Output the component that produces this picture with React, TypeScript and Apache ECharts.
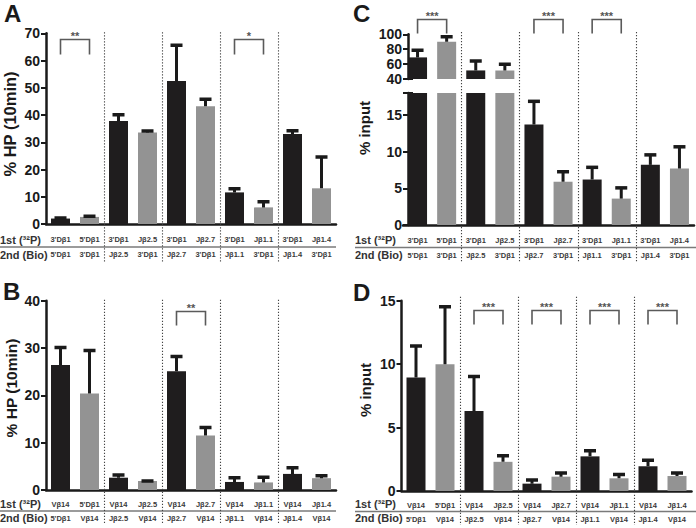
import React, { useEffect, useRef } from 'react';
import * as echarts from 'echarts';

const FONT = '"Liberation Sans", Arial, Helvetica, sans-serif';
const BLACK = '#1f1d1e';
const GRAY = '#939393';
const INK = '#1a1a1a';

// ---- category labels (two rows under each panel) ----
const firstAC = ["3'Dβ1", "5'Dβ1", "3'Dβ1", 'Jβ2.5', "3'Dβ1", 'Jβ2.7', "3'Dβ1", 'Jβ1.1', "3'Dβ1", 'Jβ1.4'];
const secondAC = ["5'Dβ1", "3'Dβ1", 'Jβ2.5', "3'Dβ1", 'Jβ2.7', "3'Dβ1", 'Jβ1.1', "3'Dβ1", 'Jβ1.4', "3'Dβ1"];
const firstBD = ['Vβ14', "5'Dβ1", 'Vβ14', 'Jβ2.5', 'Vβ14', 'Jβ2.7', 'Vβ14', 'Jβ1.1', 'Vβ14', 'Jβ1.4'];
const secondBD = ["5'Dβ1", 'Vβ14', 'Jβ2.5', 'Vβ14', 'Jβ2.7', 'Vβ14', 'Jβ1.1', 'Vβ14', 'Jβ1.4', 'Vβ14'];
const rowLabels = ['1st (³²P)', '2nd (Bio)'];
const panelLetters = ['A', 'B', 'C', 'D'];
const yTitles = ['% HP (10min)', '% HP (10min)', '% input', '% input'];

// ---- values: mean and top of error bar ----
const aMean = [2.0, 2.6, 37.8, 33.6, 52.5, 43.2, 11.6, 6.1, 33.0, 13.1];
const aErr = [2.6, 3.2, 40.5, 34.5, 66.0, 46.2, 13.3, 8.5, 34.6, 25.0];
const bMean = [26.4, 20.4, 2.6, 1.9, 25.1, 11.5, 1.7, 1.6, 3.4, 2.5];
const bErr = [30.3, 29.7, 3.4, 2.1, 28.4, 13.4, 2.8, 2.9, 4.9, 3.2];
const cMean = [69, 90, 51.5, 51.5, 13.7, 5.9, 6.2, 3.6, 8.2, 7.7];
const cErr = [80, 98, 65.5, 61, 17.0, 7.4, 8.0, 5.2, 9.7, 10.8];
const dMean = [8.95, 10.0, 6.3, 2.3, 0.58, 1.13, 2.73, 1.0, 1.95, 1.18];
const dErr = [11.5, 14.6, 9.1, 2.85, 0.95, 1.5, 3.25, 1.37, 2.5, 1.5];

// ---- significance brackets: [from, to, stars] ----
const aSig: [number, number, string][] = [[0, 1, '**'], [6, 7, '*']];
const bSig: [number, number, string][] = [[4, 5, '**']];
const cSig: [number, number, string][] = [[0, 1, '***'], [4, 5, '***'], [6, 7, '***']];
const dSig: [number, number, string][] = [[2, 3, '***'], [4, 5, '***'], [6, 7, '***'], [8, 9, '***']];

// ---- axis ranges ----
const aAxis = { min: 0, max: 70, interval: 10 };
const bAxis = { min: 0, max: 40, interval: 10 };
const cUpperAxis = { min: 40, max: 100, interval: 20 };
const cLowerAxis = { min: 0, max: 18, interval: 5 };
const dAxis = { min: 0, max: 15, interval: 5 };

const groupStarts = [2, 4, 6, 8];
const catIdx = firstAC.map((_, i) => String(i));

function xAxisDef(grid: number, first: string[], second: string[], margin: number, lh: number, show = true) {
  return {
    type: 'category',
    gridIndex: grid,
    data: catIdx,
    show,
    axisLine: { lineStyle: { color: INK, width: 2.5 } },
    axisTick: { alignWithLabel: true, length: 5, lineStyle: { color: INK, width: 2 } },
    axisLabel: {
      interval: 0,
      margin,
      lineHeight: lh,
      fontSize: 7.5,
      fontWeight: 'bold',
      fontFamily: FONT,
      color: '#3a3a3a',
      formatter: (_v: string, i: number) => first[i] + '\n' + second[i],
    },
  };
}

function yAxisDef(grid: number, r: { min: number; max: number; interval: number }, offset = 0, showMax = true) {
  return {
    type: 'value',
    gridIndex: grid,
    min: r.min,
    max: r.max,
    interval: r.interval,
    offset,
    splitLine: { show: false },
    axisLine: { show: true, lineStyle: { color: INK, width: 2.5 } },
    axisTick: { show: true, length: 5, lineStyle: { color: INK, width: 2 } },
    axisLabel: { fontSize: 14, fontWeight: 'bold', fontFamily: FONT, color: INK, margin: 6, showMaxLabel: showMax },
  };
}

function barSeries(ax: number, data: number[]) {
  return {
    type: 'bar',
    xAxisIndex: ax,
    yAxisIndex: ax,
    data,
    barWidth: 19,
    silent: true,
    itemStyle: { color: (p: any) => (p.dataIndex % 2 === 0 ? BLACK : GRAY) },
  };
}

function errSeries(ax: number, mean: number[], top: number[]) {
  return {
    type: 'custom',
    xAxisIndex: ax,
    yAxisIndex: ax,
    clip: true,
    silent: true,
    z: 3,
    data: mean.map((m, i) => [i, m, top[i]]),
    encode: { x: 0, y: [1, 2] },
    renderItem: (_p: any, api: any) => {
      const p0 = api.coord([api.value(0), api.value(1)]);
      const p1 = api.coord([api.value(0), api.value(2)]);
      return {
        type: 'group',
        children: [
          { type: 'line', shape: { x1: p0[0], y1: p0[1], x2: p1[0], y2: p1[1] + 1 }, style: { stroke: INK, lineWidth: 3 } },
          { type: 'line', shape: { x1: p1[0] - 6, y1: p1[1] + 1, x2: p1[0] + 6, y2: p1[1] + 1 }, style: { stroke: INK, lineWidth: 3.5 } },
        ],
      };
    },
  };
}

function sepSeries(ax: number, topVal: number, topPad: number, bottomPad: number) {
  return {
    type: 'custom',
    xAxisIndex: ax,
    yAxisIndex: ax,
    clip: false,
    silent: true,
    data: groupStarts.map((g) => [g, 0]),
    encode: { x: 0, y: 1 },
    renderItem: (_p: any, api: any) => {
      const g = api.value(0);
      const a = api.coord([g - 1, 0]);
      const b = api.coord([g, 0]);
      const t = api.coord([g, topVal]);
      const x = Math.round((a[0] + b[0]) / 2) + 0.5;
      return {
        type: 'line',
        shape: { x1: x, y1: t[1] - topPad, x2: x, y2: a[1] + bottomPad },
        style: { stroke: '#444', lineWidth: 1.1, lineDash: [1.2, 1.8] },
      };
    },
  };
}

function sigSeries(ax: number, topVal: number, sig: [number, number, string][], offset: number, drop: number) {
  return {
    type: 'custom',
    xAxisIndex: ax,
    yAxisIndex: ax,
    clip: false,
    silent: true,
    data: sig.map((s) => [s[0], s[1]]),
    encode: { x: 0 },
    renderItem: (p: any, api: any) => {
      const a = api.coord([api.value(0), topVal]);
      const b = api.coord([api.value(1), topVal]);
      const yb = Math.round(a[1] + offset) + 0.5;
      return {
        type: 'group',
        children: [
          {
            type: 'polyline',
            shape: { points: [[a[0], yb + drop], [a[0], yb], [b[0], yb], [b[0], yb + drop]] },
            style: { stroke: '#5a5a5a', lineWidth: 1.6, fill: null },
          },
          {
            type: 'text',
            x: (a[0] + b[0]) / 2,
            y: yb - 4,
            style: {
              text: sig[p.dataIndex][2],
              fill: '#555',
              fontSize: 11,
              fontFamily: FONT,
              fontWeight: 'bold',
              align: 'center',
              verticalAlign: 'middle',
            },
          },
        ],
      };
    },
  };
}

function breakSeries(ax: number, val: number, axisShift: number) {
  return {
    type: 'custom',
    xAxisIndex: ax,
    yAxisIndex: ax,
    clip: false,
    silent: true,
    data: [[0, val]],
    encode: { x: 0, y: 1 },
    renderItem: (p: any, api: any) => {
      const y = api.coord([0, api.value(1)])[1];
      const x = p.coordSys.x + axisShift;
      return {
        type: 'line',
        shape: { x1: x - 5, y1: y, x2: x + 5, y2: y },
        style: { stroke: INK, lineWidth: 2 },
      };
    },
  };
}

function txt(x: number, y: number, text: string, size: number, opts: any = {}) {
  return {
    type: 'text',
    x,
    y,
    rotation: opts.rotation || 0,
    style: {
      text,
      fill: opts.fill || INK,
      fontSize: size,
      fontWeight: 'bold',
      fontFamily: FONT,
      align: opts.align || 'left',
      verticalAlign: opts.va || 'middle',
    },
  };
}

function hline(x1: number, x2: number, y: number) {
  return { type: 'line', shape: { x1, y1: y, x2, y2: y }, style: { stroke: '#7a7a7a', lineWidth: 1.5 } };
}

export default function App() {
  const ref = useRef<HTMLDivElement>(null);
  useEffect(() => {
    if (!ref.current) return;
    const chart = echarts.init(ref.current, null, { renderer: 'svg' });
    const option: any = {
      animation: false,
      backgroundColor: '#ffffff',
      grid: [
        { left: 46, top: 33.3, width: 290, height: 190.7 },
        { left: 46, top: 300.7, width: 290, height: 189.3 },
        { left: 403, top: 34.3, width: 291, height: 44.7 },
        { left: 403, top: 93, width: 291, height: 132 },
        { left: 401.5, top: 300.7, width: 290, height: 190.3 },
      ],
      xAxis: [
        xAxisDef(0, firstAC, secondAC, 8, 15),
        xAxisDef(1, firstBD, secondBD, 7, 14),
        xAxisDef(2, firstAC, secondAC, 8, 15, false),
        xAxisDef(3, firstAC, secondAC, 8, 15),
        xAxisDef(4, firstBD, secondBD, 7, 14),
      ],
      yAxis: [
        yAxisDef(0, aAxis),
        yAxisDef(1, bAxis),
        yAxisDef(2, cUpperAxis, -5),
        yAxisDef(3, cLowerAxis, -5, false),
        yAxisDef(4, dAxis),
      ],
      series: [
        barSeries(0, aMean),
        errSeries(0, aMean, aErr),
        sepSeries(0, aAxis.max, 1, 39),
        sigSeries(0, aAxis.max, aSig, 6, 15),

        barSeries(1, bMean),
        errSeries(1, bMean, bErr),
        sepSeries(1, bAxis.max, 1, 33),
        sigSeries(1, bAxis.max, bSig, 10, 14),

        barSeries(2, cMean),
        errSeries(2, cMean, cErr),
        sigSeries(2, cUpperAxis.max, cSig, -15, 14),
        breakSeries(2, cUpperAxis.min, 5),

        barSeries(3, cMean),
        errSeries(3, cMean, cErr),
        sepSeries(3, cLowerAxis.max, 61, 38),
        breakSeries(3, cLowerAxis.max, 5),

        barSeries(4, dMean),
        errSeries(4, dMean, dErr),
        sepSeries(4, dAxis.max, 4, 34),
        sigSeries(4, dAxis.max, dSig, 9.5, 14),
      ],
      graphic: [
        txt(4, 13, panelLetters[0], 24),
        txt(3, 291, panelLetters[1], 24),
        txt(353, 13, panelLetters[2], 24),
        txt(353, 292, panelLetters[3], 24),

        txt(10, 124, yTitles[0], 16.5, { rotation: Math.PI / 2, align: 'center' }),
        txt(11, 388, yTitles[1], 15.5, { rotation: Math.PI / 2, align: 'center' }),
        txt(364, 128, yTitles[2], 15, { rotation: Math.PI / 2, align: 'center' }),
        txt(365, 390, yTitles[3], 15, { rotation: Math.PI / 2, align: 'center' }),

        txt(0, 239.5, rowLabels[0], 11, { fill: '#333' }),
        txt(0, 254.5, rowLabels[1], 11, { fill: '#333' }),
        txt(0, 504, rowLabels[0], 11, { fill: '#333' }),
        txt(0, 518, rowLabels[1], 11, { fill: '#333' }),
        txt(355, 240, rowLabels[0], 11, { fill: '#333' }),
        txt(355, 255, rowLabels[1], 11, { fill: '#333' }),
        txt(355, 504, rowLabels[0], 11, { fill: '#333' }),
        txt(355, 518, rowLabels[1], 11, { fill: '#333' }),

        hline(0, 336, 247),
        hline(0, 336, 511),
        hline(355, 696, 247.5),
        hline(355, 696, 511.5),
      ],
    };
    chart.setOption(option);
    return () => chart.dispose();
  }, []);
  return <div ref={ref} style={{ position: 'absolute', left: 0, top: 0, width: 696, height: 528 }} />;
}
